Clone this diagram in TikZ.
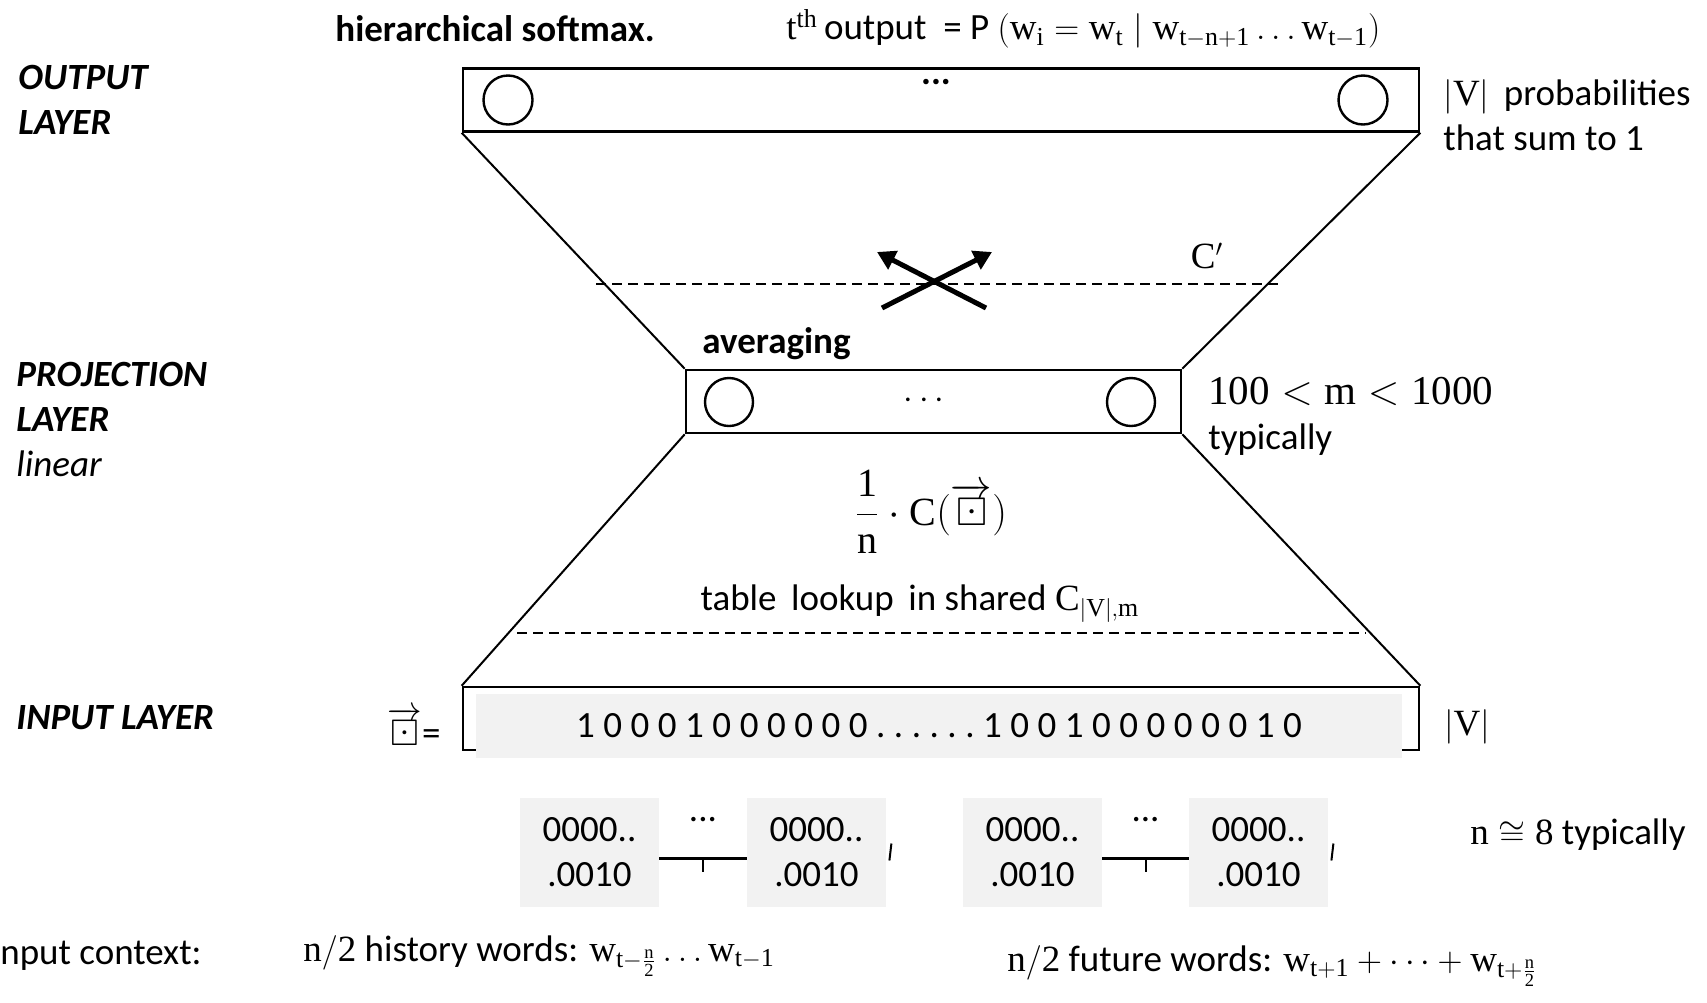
\documentclass[tikz,border=0pt]{standalone}
\usepackage{amsmath}
\usepackage{amssymb}
\usepackage{fontspec}
\setmainfont{Carlito}
\setmathrm{Liberation Serif}
\usetikzlibrary{arrows.meta, positioning, calc}
\definecolor{bitgray}{RGB}{242,242,242}

\begin{document}
\begin{tikzpicture}[x=0.5pt, y=-0.5pt,
  lbl/.style={font=\fontsize{18.5}{22.5}\selectfont, inner sep=0pt},
  layer/.style={lbl, font=\fontsize{18.5}{22.5}\selectfont\bfseries\itshape, align=left, anchor=west},
  band/.style={rectangle, draw, line width=1.3pt, minimum width=478pt, minimum height=31.5pt, inner sep=0pt},
  unit/.style={circle, draw, line width=1.2pt, minimum size=24.5pt, inner sep=0pt},
  word/.style={lbl, rectangle, fill=bitgray, minimum width=69.5pt, minimum height=54.5pt, align=center},
  edge/.style={line width=1pt},
  cut/.style={line width=1pt, dash pattern=on 5pt off 3pt},
  flow/.style={line width=2.5pt, -{Triangle[length=9pt,width=10pt]}}]

\useasboundingbox (0,0) rectangle (1707,1002);

% layer names
\node[layer] (outname) at (18,100) {OUTPUT\\LAYER};
\node[layer] (projname) at (16,419) {PROJECTION\\LAYER\\{\mdseries linear}};
\node[layer] (inname) at (16,718) {INPUT LAYER};

% output layer
\node[lbl, font=\fontsize{18.5}{22.5}\selectfont\bfseries, anchor=west] (hs) at (335,29) {hierarchical softmax.};
\node[lbl, anchor=west] (tout) at (786,29) {$\mathrm{t}^{\mathrm{th}}$\,output\ \ = P $(\mathrm{w_i} = \mathrm{w_t} \mid \mathrm{w_{t-n+1}} \ldots \mathrm{w_{t-1}})$};
\node[band] (outbox) at (941,100) {};
\node[unit] (o1) at (508,100) {};
\node[unit] (o2) at (1363,100) {};
\node[lbl, font=\fontsize{18.5}{22.5}\selectfont\bfseries] (odots) at (936,82) {...};
\node[lbl, anchor=west, align=left] (probs) at (1443,115) {$|\mathrm{V}|$\, probabilities\\that sum to 1};

% weights C'
\coordinate (cl1) at (596,284);
\coordinate (cr1) at (1279,284);
\draw[cut] (cl1) -- (cr1);
\coordinate (a1) at (986,308);
\coordinate (a1h) at (877,252);
\coordinate (a2) at (882,308);
\coordinate (a2h) at (992,252);
\draw[flow] (a1) -- (a1h);
\draw[flow] (a2) -- (a2h);
\node[lbl] (cprime) at (1207,256) {$\mathrm{C}'$};

% projection layer
\node[lbl, font=\fontsize{18.5}{22.5}\selectfont\bfseries, anchor=west] (avg) at (702,344) {averaging};
\node[band, minimum width=247.5pt] (projbox) at (933.5,401.5) {};
\node[unit, minimum size=24pt] (p1) at (729,402) {};
\node[unit, minimum size=24pt] (p2) at (1131,402) {};
\node[lbl] (pdots) at (927,401) {$\cdots$};
\node[lbl, anchor=west, align=left] (msize) at (1208,416) {{\fontsize{20.5}{22.5}\selectfont$\mathrm{100} < \mathrm{m} < \mathrm{1000}$}\\typically};

\draw[edge] (outbox.south west) -- (projbox.north west);
\draw[edge] (outbox.south east) -- (projbox.north east);

\node[lbl, font=\fontsize{20}{22.5}\selectfont] (avgform) at (931,512) {$\dfrac{\mathrm{1}}{\mathrm{n}}\cdot\mathrm{C}(\overrightarrow{\boxdot})$};
\node[lbl] (lookup) at (920,604) {table\, lookup\, in shared $\mathrm{C}_{|\mathrm{V}|,\mathrm{m}}$};
\coordinate (cl2) at (517,633);
\coordinate (cr2) at (1366,633);
\draw[cut] (cl2) -- (cr2);

% input layer
\node[band] (inbox) at (941,718.5) {};
\node[lbl, fill=bitgray, minimum width=463pt, minimum height=32pt, font=\fontsize{18.5}{22.5}\selectfont\addfontfeatures{LetterSpace=23}] (bits) at (939,726) {10001000000......100100000010};
\node[lbl, anchor=east] (vec) at (441,727) {$\overrightarrow{\boxdot}$=};
\node[lbl] (vsize) at (1467,727) {$|\mathrm{V}|$};

\draw[edge] (projbox.south west) -- (inbox.north west);
\draw[edge] (projbox.south east) -- (inbox.north east);

% context words
\node[word] (w1) at (589.5,852.5) {0000..\\.0010};
\node[word] (w2) at (816.5,852.5) {0000..\\.0010};
\node[word] (w3) at (1032.5,852.5) {0000..\\.0010};
\node[word] (w4) at (1258.5,852.5) {0000..\\.0010};
\foreach \a/\b in {w1/w2, w3/w4}{
  \draw[line width=1.3pt] ([yshift=-3pt]\a.east) -- ([yshift=-3pt]\b.west);
  \draw[line width=1pt] ($([yshift=-3pt]\a.east)!0.5!([yshift=-3pt]\b.west)$) -- ++(0,13);
  \node[lbl] at ($(\a.east)!0.5!(\b.west)+(0,-33)$) {...};
}
\draw[line width=1pt] ($(w2.east)+(5,-9)$) -- ($(w2.east)+(3,8)$);
\draw[line width=1pt] ($(w4.east)+(5,-9)$) -- ($(w4.east)+(3,8)$);
\node[lbl, anchor=west] (ntyp) at (1470,835) {$\mathrm{n}\cong \mathrm{8}$ typically};

\node[lbl, anchor=west] (ctx) at (0,956) {nput context:};
\node[lbl, anchor=west] (hist) at (303,956) {$\mathrm{n}/\mathrm{2}$ history words: $\mathrm{w}_{\mathrm{t}-\frac{\mathrm{n}}{\mathrm{2}}} \ldots \mathrm{w}_{\mathrm{t}-\mathrm{1}}$};
\node[lbl, anchor=west] (fut) at (1007,966) {$\mathrm{n}/\mathrm{2}$ future words: $\mathrm{w}_{\mathrm{t}+\mathrm{1}} + \cdots + \mathrm{w}_{\mathrm{t}+\frac{\mathrm{n}}{\mathrm{2}}}$};

\end{tikzpicture}
\end{document}
